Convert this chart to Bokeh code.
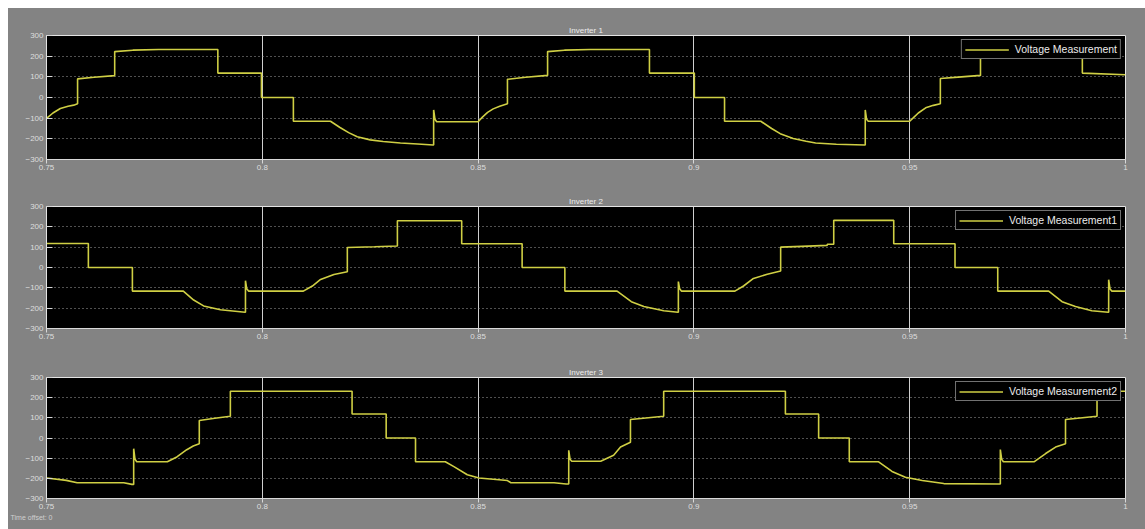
from bokeh.plotting import figure
from bokeh.models import Range1d, FixedTicker, Legend, LegendItem, Title
from bokeh.layouts import column
from bokeh.embed import file_html
from bokeh.resources import INLINE

# ---------------- data ----------------
titles = ["Inverter 1", "Inverter 2", "Inverter 3"]
series_names = ["Voltage Measurement", "Voltage Measurement1", "Voltage Measurement2"]
x_ticks = [0.75, 0.8, 0.85, 0.9, 0.95, 1.0]
x_tick_labels = ["0.75", "0.8", "0.85", "0.9", "0.95", "1"]
y_ticks = [-300, -200, -100, 0, 100, 200, 300]
time_offset_text = "Time offset:  0"

# (time, voltage)
inv1 = [
    (0.7500, -101), (0.7515, -75), (0.7532, -53), (0.7550, -42), (0.7563, -37), (0.7572, -30),
    (0.7572, 90), (0.7610, 98), (0.7658, 106),
    (0.7658, 222), (0.7700, 229), (0.7760, 232), (0.7897, 232),
    (0.7897, 118), (0.7998, 118),
    (0.7998, 0), (0.8072, 0),
    (0.8072, -115), (0.8158, -115), (0.8180, -145), (0.8200, -170), (0.8220, -190),
    (0.8250, -205), (0.8280, -213), (0.8320, -220), (0.8360, -225), (0.8396, -230),
    (0.8397, -230), (0.8397, -60), (0.8400, -105), (0.8404, -117), (0.8500, -117),
    (0.8510, -95), (0.8522, -72), (0.8535, -55), (0.8550, -42), (0.8568, -30),
    (0.8568, 88), (0.8610, 98), (0.8661, 107),
    (0.8661, 222), (0.8700, 229), (0.8760, 232), (0.8897, 232),
    (0.8897, 118), (0.9001, 118),
    (0.9001, 0), (0.9071, 0),
    (0.9071, -115), (0.9155, -115), (0.9180, -150), (0.9200, -175), (0.9230, -198),
    (0.9260, -212), (0.9282, -220), (0.9330, -226), (0.9396, -230),
    (0.9397, -230), (0.9397, -60), (0.9400, -105), (0.9404, -115), (0.9500, -115),
    (0.9510, -95), (0.9520, -75), (0.9537, -50), (0.9555, -38), (0.9571, -30),
    (0.9571, 92), (0.9620, 100), (0.9664, 107),
    (0.9664, 225), (0.9700, 230), (0.9900, 232),
    (0.9900, 118), (1.0000, 110),
]

inv2 = [
    (0.7500, 118), (0.7597, 118),
    (0.7597, 0), (0.7699, 0),
    (0.7699, -116), (0.7817, -116), (0.7841, -160), (0.7864, -189), (0.7903, -208), (0.7960, -220),
    (0.7961, -220), (0.7961, -65), (0.7964, -105), (0.7968, -116), (0.8095, -116),
    (0.8116, -91), (0.8135, -59), (0.8166, -34), (0.8197, -21),
    (0.8197, 98), (0.8260, 102), (0.8313, 106),
    (0.8313, 230), (0.8462, 230),
    (0.8462, 117), (0.8602, 117),
    (0.8602, 0), (0.8701, 0),
    (0.8701, -116), (0.8822, -116), (0.8855, -168), (0.8884, -192), (0.8930, -213), (0.8963, -220),
    (0.8964, -220), (0.8964, -69), (0.8967, -105), (0.8971, -116), (0.9095, -116),
    (0.9115, -91), (0.9138, -54), (0.9170, -33), (0.9201, -17),
    (0.9201, 100), (0.9250, 104), (0.9309, 109), (0.9309, 114), (0.9324, 114),
    (0.9324, 232), (0.9463, 232),
    (0.9463, 117), (0.9605, 117),
    (0.9605, 0), (0.9704, 0),
    (0.9704, -116), (0.9822, -116), (0.9853, -168), (0.9884, -192), (0.9922, -213), (0.9960, -220),
    (0.9961, -220), (0.9961, -60), (0.9964, -105), (0.9968, -116), (1.0000, -116),
]

inv3 = [
    (0.7500, -198), (0.7546, -210), (0.7571, -222), (0.7679, -222), (0.7698, -230), (0.7702, -230),
    (0.7702, -53), (0.7705, -105), (0.7709, -118), (0.7780, -118),
    (0.7802, -94), (0.7825, -58), (0.7840, -40), (0.7854, -29),
    (0.7854, 87), (0.7890, 98), (0.7926, 108),
    (0.7926, 232), (0.8208, 232),
    (0.8208, 119), (0.8287, 119),
    (0.8287, 0), (0.8355, 0),
    (0.8355, -118), (0.8424, -118), (0.8444, -142), (0.8475, -182), (0.8502, -198),
    (0.8568, -211), (0.8576, -222), (0.8676, -222), (0.8704, -228), (0.8710, -228),
    (0.8710, -61), (0.8713, -105), (0.8717, -115), (0.8784, -115),
    (0.8814, -86), (0.8830, -45), (0.8853, -21),
    (0.8853, 92), (0.8930, 108),
    (0.8930, 232), (0.9212, 232),
    (0.9212, 119), (0.9289, 119),
    (0.9289, 0), (0.9360, 0),
    (0.9360, -118), (0.9428, -118), (0.9459, -166), (0.9490, -195), (0.9529, -211),
    (0.9579, -226), (0.9706, -228), (0.9710, -228),
    (0.9710, -57), (0.9713, -105), (0.9717, -118), (0.9788, -118),
    (0.9815, -77), (0.9838, -45), (0.9861, -29),
    (0.9861, 92), (0.9934, 108),
    (0.9934, 232), (1.0000, 232),
]

traces = [inv1, inv2, inv3]

# ---------------- style ----------------
BG = "#838383"
FG = "#dedede"
LINE = "#cfcf44"
FONT = "Liberation Sans"
FIG_W = 1137
fig_heights = [171, 171, 179]
frame_heights = [124, 122, 121]
TOP = 27


def make_panel(title, name, pts, fig_h, frame_h):
    t = [a for a, b in pts]
    v = [b for a, b in pts]
    p = figure(width=FIG_W, height=fig_h,
               x_range=Range1d(0.75, 1.0), y_range=Range1d(-300, 300),
               output_backend="svg", toolbar_location=None,
               min_border_left=38, min_border_right=20,
               min_border_top=TOP, min_border_bottom=fig_h - TOP - frame_h,
               border_fill_color=BG, background_fill_color="black",
               outline_line_color="#e4e4e4", outline_line_width=1)
    p.title.text = title
    p.title.align = "center"
    p.title.text_font = FONT
    p.title.text_font_size = "8px"
    p.title.text_font_style = "normal"
    p.title.text_color = "#ececec"
    p.title.standoff = 2

    xa = p.xaxis[0]
    xa.ticker = FixedTicker(ticks=x_ticks)
    xa.major_label_overrides = dict(zip(x_ticks, x_tick_labels))
    xa.major_label_text_color = FG
    xa.major_label_text_font = FONT
    xa.major_label_text_font_size = "8px"
    xa.axis_line_color = "#d8d8d8"
    xa.major_tick_line_color = "#d8d8d8"
    xa.major_tick_out = 4
    xa.major_tick_in = 0
    xa.minor_tick_line_color = None
    xa.major_label_standoff = 1

    ya = p.yaxis[0]
    ya.ticker = FixedTicker(ticks=y_ticks)
    ya.major_label_text_color = FG
    ya.major_label_text_font = FONT
    ya.major_label_text_font_size = "8px"
    ya.axis_line_color = "#e4e4e4"
    ya.major_tick_line_color = "#d8d8d8"
    ya.major_tick_in = 6
    ya.major_tick_out = 0
    ya.minor_tick_line_color = None
    ya.major_label_standoff = 3

    p.xgrid.ticker = FixedTicker(ticks=x_ticks)
    p.xgrid.grid_line_color = "#cfcfcf"
    p.xgrid.grid_line_width = 1
    p.ygrid.ticker = FixedTicker(ticks=y_ticks)
    p.ygrid.grid_line_color = "#a0a0a0"
    p.ygrid.grid_line_dash = "1 3"
    p.ygrid.grid_line_width = 1

    r = p.line(t, v, line_color=LINE, line_width=1.6)

    leg = Legend(items=[LegendItem(label=name, renderers=[r])],
                 location="top_right",
                 background_fill_color="black", background_fill_alpha=1.0,
                 border_line_color="#e4e4e4", border_line_width=1,
                 label_text_color="#ececec", label_text_font=FONT,
                 label_text_font_size="10.5px",
                 glyph_width=44, glyph_height=11, label_height=11,
                 label_standoff=6, padding=3, margin=4, spacing=0)
    p.add_layout(leg)
    return p


panels = [make_panel(titles[i], series_names[i], traces[i], fig_heights[i], frame_heights[i])
          for i in range(3)]

panels[2].add_layout(Title(text=time_offset_text, align="left", offset=-36,
                           text_font=FONT, text_font_size="7px", text_font_style="normal",
                           text_color="#d0d0d0", standoff=0), "below")

layout = column(*panels, spacing=0, margin=(8, 0, 0, 8),
                styles={"background-color": BG})
open("out.html", "w").write(file_html(layout, INLINE))
